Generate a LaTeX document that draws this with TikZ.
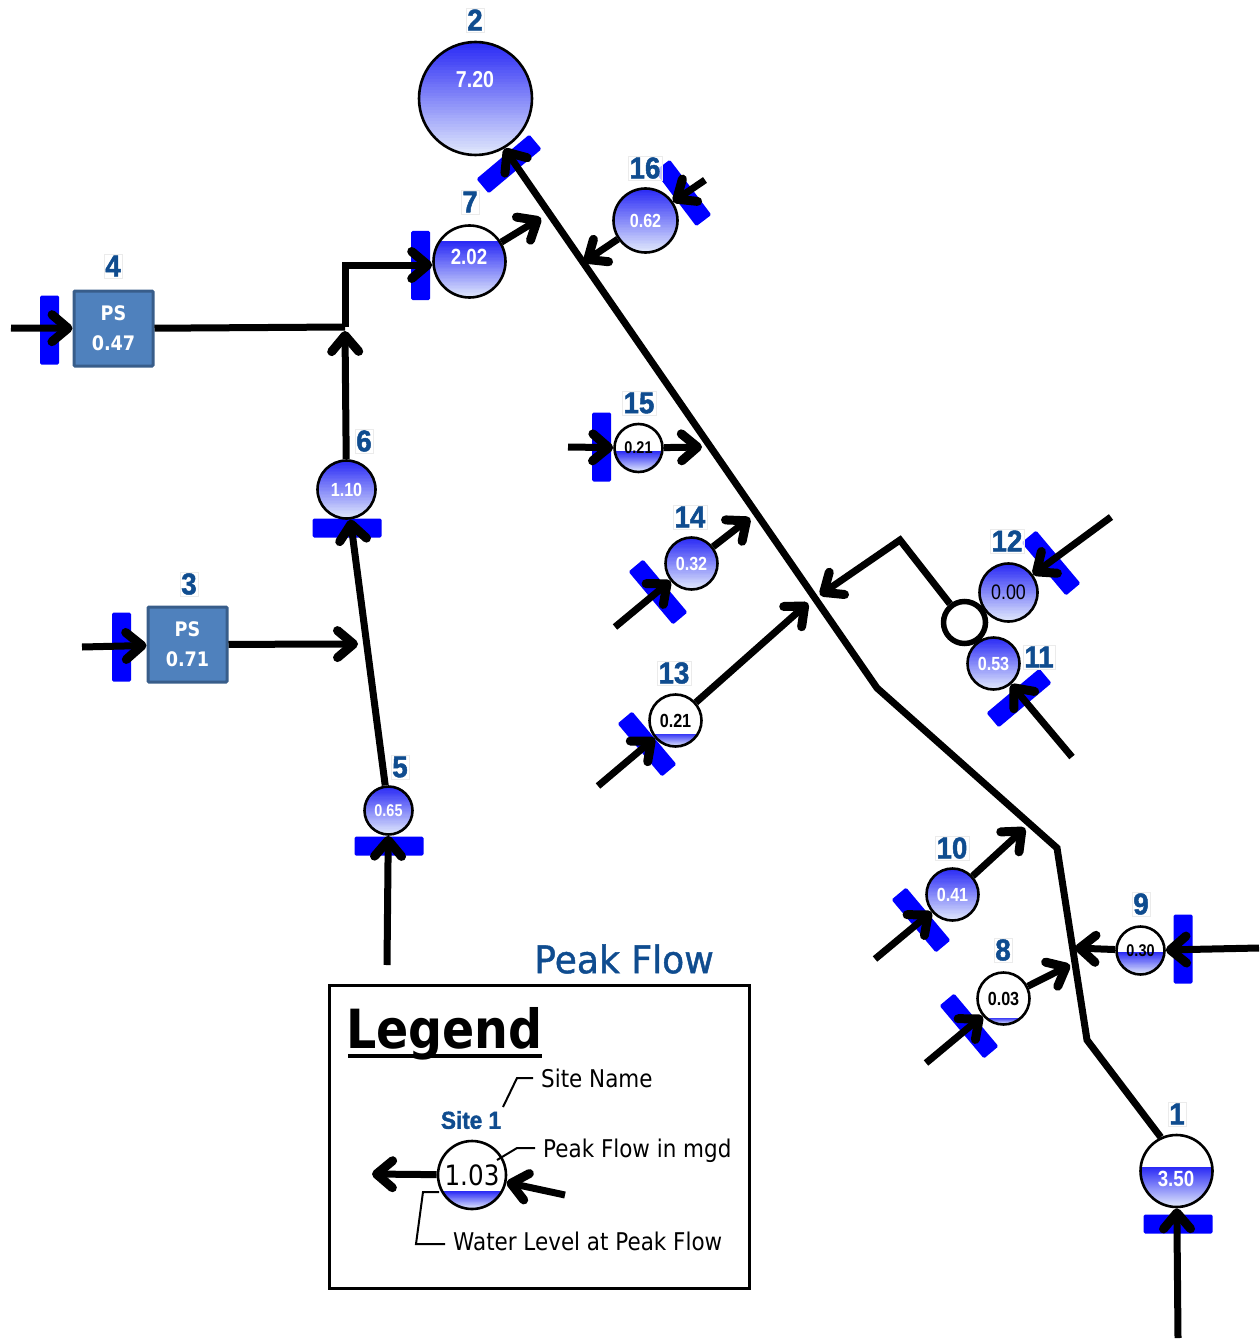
\documentclass[tikz,border=0pt]{standalone}
\usepackage{fontspec}
\setmainfont{DejaVu Sans}
\newfontfamily\valfont[FakeStretch=0.85]{Liberation Sans}
\newfontfamily\sitefont[FakeStretch=0.92,FakeBold=1.6]{Liberation Sans}
\newfontfamily\legfont[FakeStretch=0.88]{DejaVu Sans}
\newfontfamily\titfont[FakeStretch=0.95,FakeBold=1.2]{DejaVu Sans}
\usetikzlibrary{arrows.meta,calc}
\definecolor{sitecol}{HTML}{0F4C8F}
\definecolor{psfill}{HTML}{4F81BD}
\definecolor{psedge}{HTML}{385D8A}
\definecolor{watertop}{HTML}{2A2AF5}
\definecolor{waterbot}{HTML}{E4ECFC}

\begin{document}
\begin{tikzpicture}[x=1pt,y=-1pt,
  gauge/.style={draw,circle,line width=2.6pt,inner sep=0pt,minimum size=2*#1 pt,font=\valfont\bfseries\fontsize{19}{19}\selectfont},
  water/.style={path picture={\foreach \k in {0,...,39}{
      \pgfmathsetmacro\wmix{100-2.5*\k}
      \pgfmathsetmacro\wpos{#1+(1-#1)*\k/40}
      \fill[watertop!\wmix!waterbot]
        ($(path picture bounding box.north west)!\wpos!(path picture bounding box.south west)$)
        rectangle (path picture bounding box.south east);}}},
  full/.style={water=0,text=white},
  gate/.style={fill=blue,rounded corners=1.5pt,minimum width=69pt,minimum height=19pt,inner sep=0pt},
  site/.style={draw=black!8,fill=white,fill opacity=.75,text opacity=1,inner sep=1.5pt,text=sitecol,font=\sitefont\bfseries\fontsize{30}{30}\selectfont},
  pump/.style={draw=psedge,fill=psfill,line width=3pt,rounded corners=1pt,minimum width=79pt,minimum height=75pt,inner sep=0pt,align=center,text=white,font=\legfont\bfseries\fontsize{20}{30}\selectfont},
  pipe/.style={line width=7pt},
  flow/.style={pipe,-{Straight Barb[round,length=16pt,width=27pt,line width=9pt]}},
  leader/.style={line width=2pt},
  note/.style={inner sep=0pt,anchor=west,font=\legfont\fontsize{24.4}{25}\selectfont}]
\useasboundingbox (0,0) rectangle (1259,1340);

\node[gate,rotate=40] (G2) at (509,164) {};
\node[gate,rotate=-53] (G16) at (683,193) {};
\node[gate,rotate=90] (G7) at (420.5,265.5) {};
\node[gate,rotate=90] (G4) at (49.5,330) {};
\node[gate,rotate=90] (G3) at (121.5,647) {};
\node[gate] (G6) at (347,528) {};
\node[gate] (G5) at (389,846) {};
\node[gate,rotate=90] (G15) at (601.5,447) {};
\node[gate,rotate=-50] (G14) at (658,592) {};
\node[gate,rotate=-50] (G13) at (647,744) {};
\node[gate,rotate=-50] (G12) at (1051,563) {};
\node[gate,rotate=40] (G11) at (1019,698) {};
\node[gate,rotate=-50] (G10) at (921,920) {};
\node[gate,rotate=-50] (G8) at (969,1026) {};
\node[gate,rotate=90] (G9) at (1183,949) {};
\node[gate] (G1) at (1178,1224) {};

\node[gauge=56.5,water=0] (S2) at (475.5,98.5) {};
\node[gauge=36,water=.22] (S7) at (469.5,261.5) {};
\node[gauge=32,full] (S16) at (645.5,220.5) {0.62};
\node[gauge=29,full] (S6) at (346.5,489.5) {1.10};
\node[gauge=24,full,font=\valfont\bfseries\fontsize{17}{17}\selectfont] (S5) at (388.5,810.5) {0.65};
\node[gauge=24,water=.57,font=\valfont\bfseries\fontsize{17}{17}\selectfont] (S15) at (638.5,448) {0.21};
\node[gauge=26,full] (S14) at (691.5,563.5) {0.32};
\node[gauge=26,water=.75] (S13) at (675.5,720.5) {0.21};
\node[gauge=29,water=0,font=\valfont\fontsize{21}{21}\selectfont] (S12) at (1008.5,592.5) {0.00};
\node[gauge=26,full] (S11) at (993.5,663.5) {0.53};
\node[gauge=26,full] (S10) at (952.5,894.5) {0.41};
\node[gauge=24,water=.53,font=\valfont\bfseries\fontsize{17}{17}\selectfont] (S9) at (1140.5,950.5) {0.30};
\node[gauge=26,water=.87] (S8) at (1003.5,998.5) {0.03};
\node[gauge=36,water=.44] (S1) at (1176.5,1171) {};
\node[draw,circle,line width=5.5pt,fill=white,minimum size=42pt,inner sep=0pt] (J) at (964.5,622.5) {};

\node[text=white,font=\valfont\bfseries\fontsize{23}{23}\selectfont] (V2) at (475,80) {7.20};
\node[text=white,font=\valfont\bfseries\fontsize{22}{22}\selectfont] (V7) at (469,257) {2.02};
\node[text=white,font=\valfont\bfseries\fontsize{22}{22}\selectfont] (V1) at (1176,1179) {3.50};

\node[pump] (S4) at (113.5,328.5) {PS\\0.47};
\node[pump] (S3) at (187.5,644.5) {PS\\0.71};

\node[site] (L2) at (475,20) {2};
\node[site] (L7) at (470,202) {7};
\node[site] (L16) at (645,168) {16};
\node[site] (L4) at (113,266) {4};
\node[site] (L6) at (364,441) {6};
\node[site] (L3) at (189,584) {3};
\node[site] (L5) at (400,767) {5};
\node[site] (L15) at (639,403) {15};
\node[site] (L14) at (690,517) {14};
\node[site] (L13) at (674,673) {13};
\node[site] (L12) at (1007,541) {12};
\node[site] (L11) at (1039,657) {11};
\node[site] (L10) at (952,848) {10};
\node[site] (L9) at (1141,904) {9};
\node[site] (L8) at (1003,950) {8};
\node[site] (L1) at (1177,1114) {1};

\coordinate (T1) at (1087,1040);
\coordinate (T2) at (1057,848);
\coordinate (T3) at (877,688);
\draw[flow] (S1.115) -- (T1) -- (T2) -- (T3) -- (S2.300);

\coordinate (in4) at (11,328);
\coordinate (in3) at (82,647);
\coordinate (in5) at (387,965);
\coordinate (in15) at (568,447);
\coordinate (in14) at (615,627);
\coordinate (in13) at (598,786);
\coordinate (in16) at (705,180);
\coordinate (in12) at (1111,517);
\coordinate (in11) at (1072,757);
\coordinate (in10) at (875,959);
\coordinate (in8) at (926,1063);
\coordinate (in9) at (1259,948);
\coordinate (in1) at (1178,1338);
\draw[flow] (in4) -- (S4);
\draw[flow] (in3) -- (S3);
\draw[flow] (in5) -- (S5);
\draw[flow] (in15) -- (S15);
\draw[flow] (in14) -- (S14);
\draw[flow] (in13) -- (S13);
\draw[flow] (in16) -- (S16);
\draw[flow] (in12) -- (S12);
\draw[flow] (in11) -- (S11);
\draw[flow] (in10) -- (S10);
\draw[flow] (in8) -- (S8);
\draw[flow] (in9) -- (S9);
\draw[flow] (in1) -- (S1);

\coordinate (j4) at (345,327);
\coordinate (k4) at (345,265);
\coordinate (m3) at (358,644);
\coordinate (m7) at (541,218);
\coordinate (m16) at (584,262);
\coordinate (m15) at (702,447);
\coordinate (m14) at (750,518);
\coordinate (m13) at (808,603);
\coordinate (mJ) at (900,540);
\coordinate (nJ) at (820,595);
\coordinate (m10) at (1025,828);
\coordinate (m9) at (1075,948);
\coordinate (m8) at (1070,965);
\coordinate (e4) at (345,331);
\draw[pipe] (S4) -- (j4);
\draw[flow] (S6) -- (e4);
\draw[flow] (j4) -- (k4) -- (S7.west |- k4);
\draw[flow] (S5) -- (S6);
\draw[flow] (S3) -- (m3);
\draw[flow] (S7) -- (m7);
\draw[flow] (S16) -- (m16);
\draw[flow] (S15) -- (m15);
\draw[flow] (S14) -- (m14);
\draw[flow] (S13) -- (m13);
\draw[flow] (J) -- (mJ) -- (nJ);
\draw[flow] (S10) -- (m10);
\draw[flow] (S9) -- (m9);
\draw[flow] (S8) -- (m8);

\node[text=sitecol,font=\titfont\fontsize{38}{38}\selectfont] (title) at (624,959) {Peak Flow};
\node[draw,line width=3pt,minimum width=420pt,minimum height=303pt,inner sep=0pt] (box) at (539,1136.5) {};
\node[anchor=base west,inner sep=0pt,font=\legfont\bfseries\fontsize{54}{54}\selectfont] (leg) at (346,1048) {Legend};
\draw[line width=3.5pt] (348,1056) -- (542,1056);
\node[gauge=34,water=.74,font=\legfont\fontsize{28}{28}\selectfont] (LG) at (472,1175) {1.03};
\node[text=sitecol,font=\sitefont\bfseries\fontsize{24.5}{26}\selectfont] (LS) at (471,1120) {Site 1};
\node[note] (N1) at (541,1078) {Site Name};
\node[note] (N2) at (543,1151) {Peak Flow in mgd};
\node[note] (N3) at (453,1241) {Water Level at Peak Flow};
\coordinate (a1) at (503,1107);
\coordinate (a2) at (517,1078);
\coordinate (b1) at (497,1160);
\coordinate (b2) at (517,1148);
\coordinate (b3) at (535,1148);
\coordinate (c1) at (439,1192);
\coordinate (c2) at (423,1192);
\coordinate (c3) at (416,1244);
\coordinate (c4) at (445,1244);
\draw[leader] (a1) -- (a2) -- ($(N1.west)+(-8,0)$);
\draw[leader] (b1) -- (b2) -- (b3);
\draw[leader] (c1) -- (c2) -- (c3) -- (c4);
\coordinate (out) at (372,1174);
\coordinate (lin) at (565,1195);
\draw[flow] (LG) -- (out);
\draw[flow] (lin) -- (LG);
\end{tikzpicture}
\end{document}
